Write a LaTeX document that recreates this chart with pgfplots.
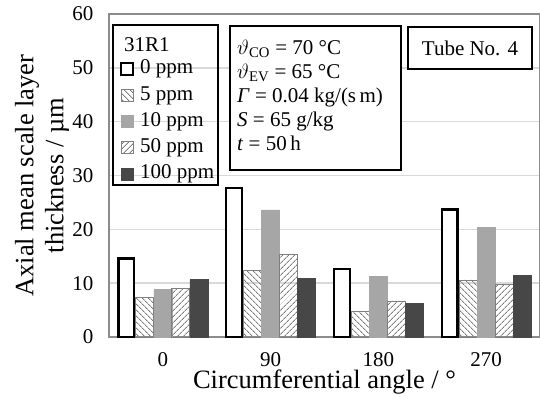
\documentclass[border=0pt]{standalone}
\usepackage{fontspec}
\setmainfont{Liberation Serif}
\usepackage{pgfplots}
\pgfplotsset{compat=1.18}
\usetikzlibrary{patterns.meta}
\definecolor{gridc}{HTML}{D9D9D9}
\definecolor{axc}{HTML}{8C8C8C}
\definecolor{lgray}{HTML}{A6A6A6}
\definecolor{dgray}{HTML}{474747}
\definecolor{patc}{HTML}{7F7F7F}
\begin{document}
\begin{tikzpicture}[font=\fontsize{21}{25}\selectfont]
\begin{axis}[
  scale only axis, width=431pt, height=323pt,
  ybar=0pt, bar width=18pt,
  xmin=-0.5, xmax=3.5, ymin=0, ymax=60,
  xtick={0,1,2,3}, xticklabels={0,90,180,270},
  ytick={0,10,...,60},
  major tick length=0pt,
  ymajorgrids, grid style={gridc, line width=1.5pt},
  axis line style={axc, line width=1.8pt},
  xlabel={Circumferential angle / °},
  ylabel={Axial mean scale layer\\thickness / µm},
  ylabel style={align=center, font=\fontsize{26.5}{30}\selectfont, at={(axis description cs:-0.1555,0.5)}, anchor=center},
  xlabel style={font=\fontsize{26.5}{30}\selectfont, inner sep=0pt, at={(axis description cs:0.5,0)}, anchor=center, yshift=-45.5pt},
  /pgf/number format/assume math mode=true,
  tick label style={font=\fontsize{21}{25}\selectfont},
  xticklabel style={inner sep=0pt, yshift=-15.5pt}, yticklabel style={xshift=-12pt},
  legend image code/.code={\draw[#1] (0pt,-6pt) rectangle (12pt,6pt);},
  legend style={at={(axis description cs:0.0255,0.9288)}, anchor=north west, draw=none, fill=none,
     inner sep=0pt, outer sep=0pt, font=\fontsize{21}{25}\selectfont, column sep=5pt,
     nodes={inner ysep=0pt, inner xsep=1pt, text height=15pt, text depth=5pt}, row sep=6.25pt},
  legend cell align=left,
]
\addlegendimage{empty legend}
\addlegendentry[text depth=0.75pt]{\hspace*{-16pt}31R1}
\addplot[bar shift=-36.5pt, bar width=15.8pt, draw=black, line width=2.2pt, fill=white] coordinates {(0,14.6) (1,27.7) (2,12.6) (3,23.7)};
\addlegendentry{0 ppm}
\addplot[bar shift=-18pt, draw=patc, line width=0.8pt, pattern={Lines[angle=-45,distance=4pt,line width=1pt]}, pattern color=patc] coordinates {(0,7.3) (1,12.3) (2,4.8) (3,10.6)};
\addlegendentry{5 ppm}
\addplot[bar shift=0pt, draw=lgray, line width=0.5pt, fill=lgray] coordinates {(0,8.8) (1,23.6) (2,11.3) (3,20.3)};
\addlegendentry{10 ppm}
\addplot[bar shift=18pt, draw=patc, line width=0.8pt, pattern={Lines[angle=45,distance=4pt,line width=1pt]}, pattern color=patc] coordinates {(0,9.0) (1,15.4) (2,6.7) (3,9.7)};
\addlegendentry{50 ppm}
\addplot[bar shift=36pt, draw=dgray, line width=0.5pt, fill=dgray] coordinates {(0,10.7) (1,10.9) (2,6.3) (3,11.4)};
\addlegendentry{100 ppm}
\draw[black, line width=2.4pt] (rel axis cs:0.0093,0.4706) rectangle (rel axis cs:0.2529,0.966);
\draw[black, line width=2.4pt, fill=white] (rel axis cs:0.2807,0.517) rectangle (rel axis cs:0.6775,0.963);
\node[anchor=north west, inner sep=0pt, align=left, font=\fontsize{21}{24}\selectfont] at (rel axis cs:0.297,0.9195)
  {\(\vartheta\)\textsubscript{CO} = 70 °C\\
   \(\vartheta\)\textsubscript{EV} = 65 °C\\
   \textit{Γ} = 0.04 kg/(s\,m)\\
   \textit{S} = 65 g/kg\\
   \textit{t} = 50\,h};
\draw[black, line width=2.4pt, fill=white] (rel axis cs:0.6937,0.830) rectangle (rel axis cs:0.9814,0.960);
\node[anchor=center, inner sep=0pt] at (rel axis cs:0.8375,0.895) {Tube No. 4};
\end{axis}
\pgfresetboundingbox
\path (current axis.south west) ++(-109pt,-59pt) rectangle ++(540pt,396pt);
\end{tikzpicture}
\end{document}
